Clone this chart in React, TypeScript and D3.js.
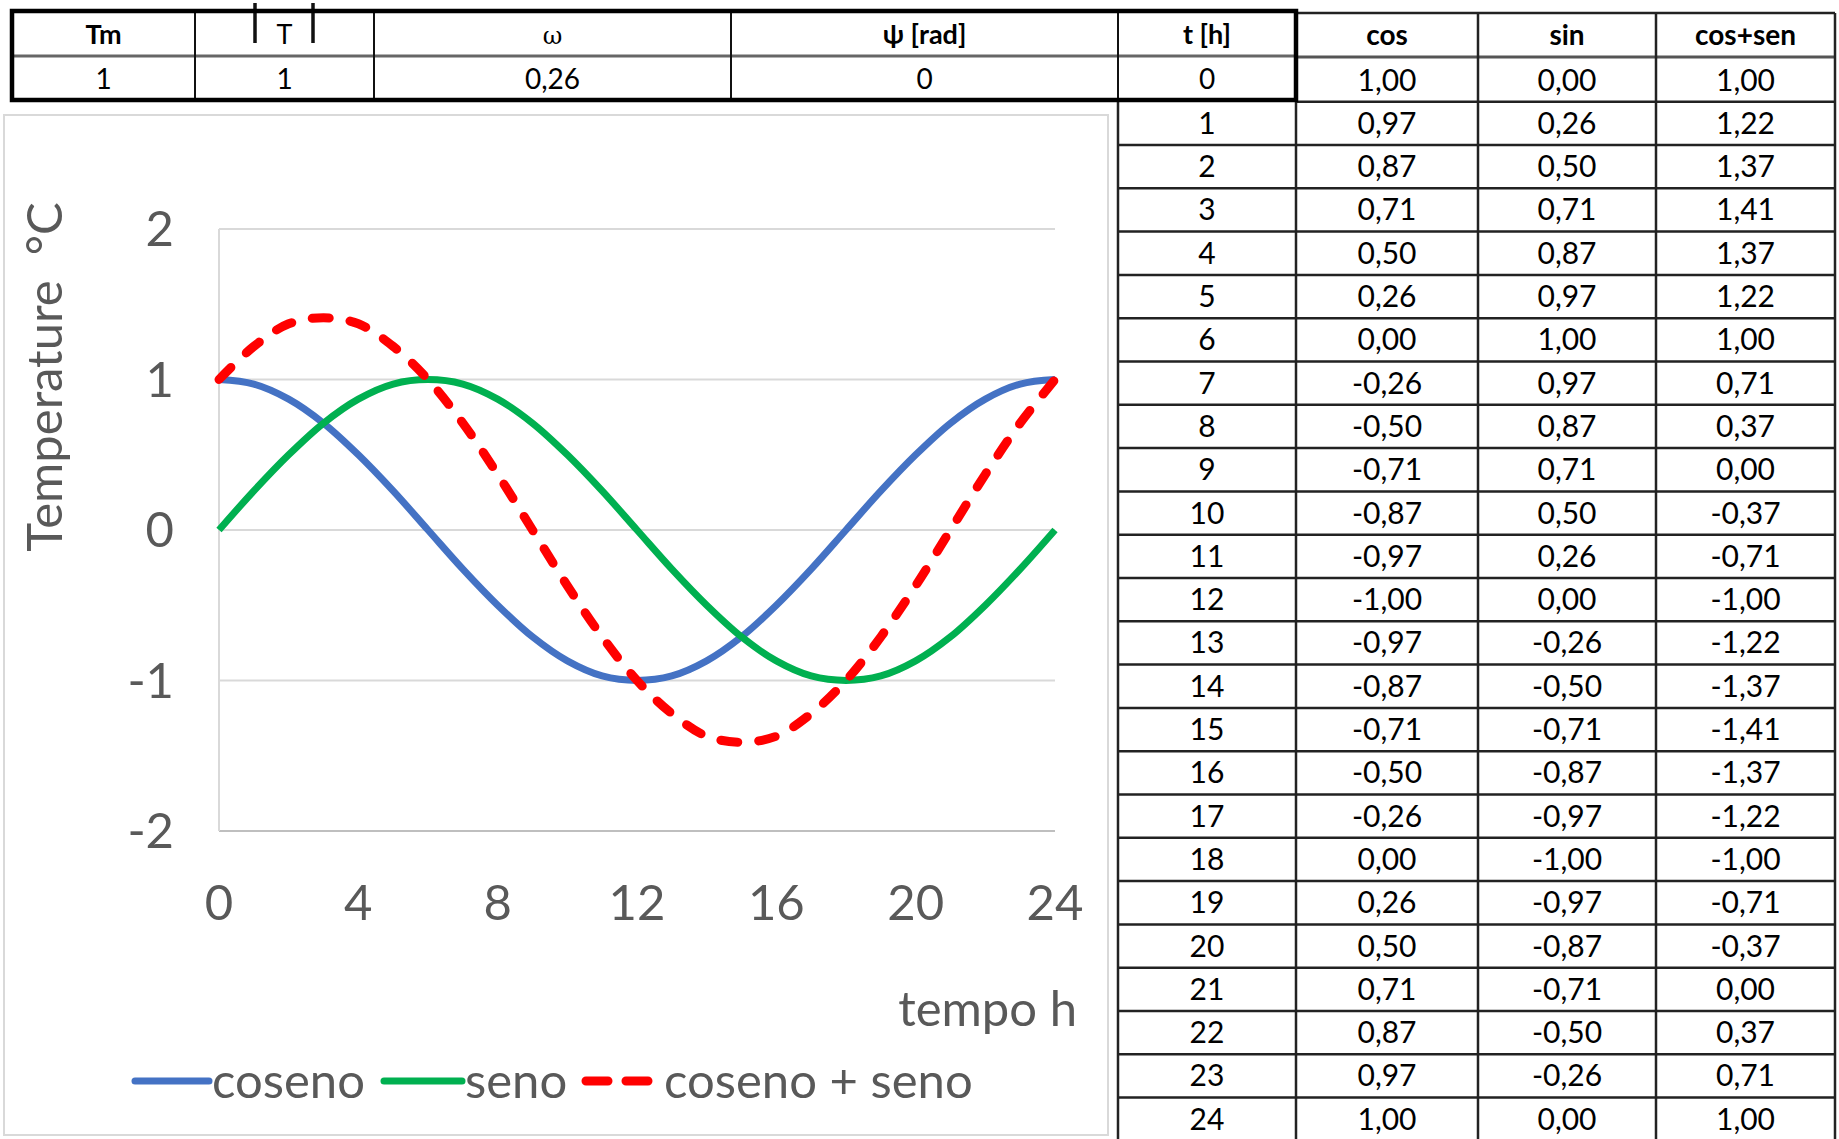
import React from "react";
import * as d3 from "d3";

// ---- data ----
const hours = [0,1,2,3,4,5,6,7,8,9,10,11,12,13,14,15,16,17,18,19,20,21,22,23,24];
const cosValues = [1.00,0.97,0.87,0.71,0.50,0.26,0.00,-0.26,-0.50,-0.71,-0.87,-0.97,-1.00,-0.97,-0.87,-0.71,-0.50,-0.26,0.00,0.26,0.50,0.71,0.87,0.97,1.00];
const sinValues = [0.00,0.26,0.50,0.71,0.87,0.97,1.00,0.97,0.87,0.71,0.50,0.26,0.00,-0.26,-0.50,-0.71,-0.87,-0.97,-1.00,-0.97,-0.87,-0.71,-0.50,-0.26,0.00];
const sumValues = [1.00,1.22,1.37,1.41,1.37,1.22,1.00,0.71,0.37,0.00,-0.37,-0.71,-1.00,-1.22,-1.37,-1.41,-1.37,-1.22,-1.00,-0.71,-0.37,0.00,0.37,0.71,1.00];
const paramHeaders = ["Tm", "T", "ω", "ψ [rad]", "t [h]"];
const paramValues = ["1", "1", "0,26", "0", "0"];
const tableHeaders = ["cos", "sin", "cos+sen"];
const xTicks = [0, 4, 8, 12, 16, 20, 24];
const yTicks = [-2, -1, 0, 1, 2];
const seriesNames = ["coseno", "seno", "coseno + seno"];

const W = 1839, H = 1139;
const FONT = "Lato, 'Open Sans', sans-serif";
const GRAY_TXT = "#595959";

const fmt = d3.formatLocale({ decimal: ",", thousands: ".", grouping: [3], currency: ["", ""], minus: "-" }).format(".2f");

export default function App() {
  const x = d3.scaleLinear().domain([0, 24]).range([219, 1055]);
  const y = d3.scaleLinear().domain([-2, 2]).range([831, 229]);
  const line = d3.line<number>().x((_, i) => x(hours[i])).y((d) => y(d)).curve(d3.curveCatmullRom.alpha(0.5));

  const series = [
    { name: seriesNames[0], values: cosValues, color: "#4472C4", width: 7, dash: undefined },
    { name: seriesNames[1], values: sinValues, color: "#00B050", width: 7, dash: undefined },
    { name: seriesNames[2], values: sumValues, color: "#FF0000", width: 9, dash: "17 21" },
  ];

  const pCols = [12, 195, 374, 731, 1118, 1296];
  const rCols = [1296, 1478, 1656, 1835];
  const rowTop = (k: number) => 58.4 + k * 43.3;
  const rowH = 43.3;

  const legendItems = [
    { lx1: 135, lx2: 209, tx: 212 },
    { lx1: 384, lx2: 462, tx: 465 },
    { lx1: 586, lx2: 661, tx: 664 },
  ];

  return (
    <svg width={W} height={H} style={{ position: "absolute", left: 0, top: 0, background: "#fff" }} fontFamily={FONT}>
      <rect x={0} y={0} width={W} height={H} fill="#fff" />

      {/* ---- chart frame ---- */}
      <rect x={4} y={115} width={1104} height={1020} fill="#fff" stroke="#d9d9d9" strokeWidth={2} />

      {yTicks.map((t) => (
        <line key={"g" + t} x1={x(0)} x2={x(24)} y1={y(t)} y2={y(t)} stroke={t === -2 ? "#bfbfbf" : "#d9d9d9"} strokeWidth={2} />
      ))}
      <line x1={x(0)} x2={x(0)} y1={y(2)} y2={y(-2)} stroke="#d9d9d9" strokeWidth={2} />

      {yTicks.map((t) => (
        <text key={"yt" + t} x={174} y={y(t) + 17} textAnchor="end" fontSize={49} fill={GRAY_TXT}>{String(t)}</text>
      ))}
      {xTicks.map((t) => (
        <text key={"xt" + t} x={x(t)} y={920} textAnchor="middle" fontSize={49} fill={GRAY_TXT}>{String(t)}</text>
      ))}

      <text transform="translate(62,377) rotate(-90)" textAnchor="middle" fontSize={49} fill={GRAY_TXT} style={{ whiteSpace: "pre" }}>{"Temperature  °C"}</text>
      <text x={1077} y={1026} textAnchor="end" fontSize={49} fill={GRAY_TXT}>tempo h</text>

      {series.map((s) => (
        <path key={s.name} d={line(s.values) || ""} fill="none" stroke={s.color} strokeWidth={s.width}
          strokeDasharray={s.dash} strokeLinecap={s.dash ? "round" : "butt"} />
      ))}

      {series.map((s, i) => (
        <g key={"lg" + i}>
          <line x1={legendItems[i].lx1} x2={legendItems[i].lx2} y1={1081} y2={1081} stroke={s.color}
            strokeWidth={s.dash ? 9 : 7} strokeDasharray={s.dash ? "22 18" : undefined} strokeLinecap="round" />
          <text x={legendItems[i].tx} y={1098} fontSize={49} fill={GRAY_TXT}>{s.name}</text>
        </g>
      ))}

      {/* ---- top parameter table ---- */}
      {paramHeaders.map((h, i) => (
        <text key={"ph" + i} x={(pCols[i] + pCols[i + 1]) / 2} y={44} textAnchor="middle"
          fontSize={h === "ω" ? 24 : 27} fontWeight={h === "ω" || h === "T" ? 400 : 700} fill="#000"
          fontFamily={h === "ω" ? "'DejaVu Serif', serif" : FONT}>{h}</text>
      ))}
      {paramValues.map((v, i) => (
        <text key={"pv" + i} x={(pCols[i] + pCols[i + 1]) / 2} y={89} textAnchor="middle" fontSize={28} fill="#000">{v}</text>
      ))}
      <line x1={12} x2={1296} y1={56} y2={56} stroke="#666" strokeWidth={3} />
      {pCols.slice(1, -1).map((c) => (
        <line key={"pc" + c} x1={c} x2={c} y1={11} y2={100} stroke="#111" strokeWidth={2} />
      ))}
      <line x1={255} x2={255} y1={3} y2={43} stroke="#111" strokeWidth={3.5} />
      <line x1={313} x2={313} y1={3} y2={43} stroke="#111" strokeWidth={3.5} />

      {/* ---- right data table ---- */}
      {tableHeaders.map((h, i) => (
        <text key={"th" + i} x={(rCols[i] + rCols[i + 1]) / 2} y={45} textAnchor="middle" fontSize={28} fontWeight={700} fill="#000">{h}</text>
      ))}
      <line x1={1296} x2={1835} y1={13} y2={13} stroke="#222" strokeWidth={2.5} />
      <line x1={1296} x2={1835} y1={57} y2={57} stroke="#555" strokeWidth={3} />
      {hours.map((hr, k) => {
        const cy = rowTop(k) + rowH / 2 + 10.5;
        return (
          <g key={"r" + k}>
            {k > 0 && (
              <text x={(1118 + 1296) / 2} y={cy} textAnchor="middle" fontSize={30} fill="#000">{String(hr)}</text>
            )}
            <text x={(rCols[0] + rCols[1]) / 2} y={cy} textAnchor="middle" fontSize={30} fill="#000">{fmt(cosValues[k])}</text>
            <text x={(rCols[1] + rCols[2]) / 2} y={cy} textAnchor="middle" fontSize={30} fill="#000">{fmt(sinValues[k])}</text>
            <text x={(rCols[2] + rCols[3]) / 2} y={cy} textAnchor="middle" fontSize={30} fill="#000">{fmt(sumValues[k])}</text>
            <line x1={k === 0 ? 1296 : 1118} x2={1835} y1={rowTop(k) + rowH} y2={rowTop(k) + rowH} stroke="#222" strokeWidth={2.5} />
          </g>
        );
      })}
      <line x1={1118} x2={1118} y1={100} y2={H} stroke="#222" strokeWidth={2.5} />
      {rCols.map((c) => (
        <line key={"rc" + c} x1={c} x2={c} y1={c === 1296 ? 100 : 13} y2={H} stroke="#222" strokeWidth={2.5} />
      ))}

      <rect x={12} y={11} width={1284} height={89} fill="none" stroke="#000" strokeWidth={4.5} />
    </svg>
  );
}
